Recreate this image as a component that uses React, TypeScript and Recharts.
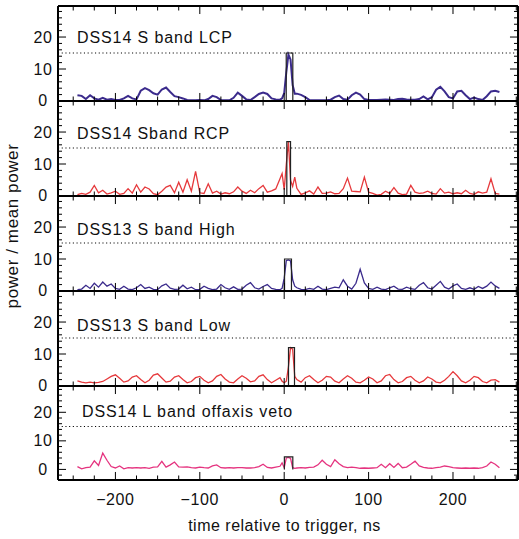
import React from 'react';
import { LineChart, Line, XAxis, YAxis, ReferenceLine } from 'recharts';

// time grid, ns (finer around the trigger)
const times = [
  -245, -240, -235, -230, -225, -220, -215, -210, -205, -200,
  -195, -190, -185, -180, -175, -170, -165, -160, -155, -150,
  -145, -140, -135, -130, -125, -120, -115, -110, -105, -100,
  -95, -90, -85, -80, -75, -70, -65, -60, -55, -50,
  -45, -40, -35, -30, -25, -20, -15, -10, -5,
  -2.5, 0, 2.5, 5, 7.5, 10, 12.5,
  15, 20, 25, 30, 35, 40, 45, 50, 55, 60,
  65, 70, 75, 80, 85, 90, 95, 100, 105, 110,
  115, 120, 125, 130, 135, 140, 145, 150, 155, 160,
  165, 170, 175, 180, 185, 190, 195, 200, 205, 210,
  215, 220, 225, 230, 235, 240, 245, 250, 255,
];

const dss14Lcp = [
  1.8, 1.6, 0.6, 1.8, 0.8, 0.4, 1.0, 0.4, 0.6, 0.3,
  0.3, 0.8, 1.6, 0.8, 0.5, 3.2, 4.0, 3.4, 2.4, 2.0,
  3.6, 4.2, 2.8, 1.5, 1.2, 0.8, 0.3, 0.2, 0.2, 0.3,
  0.2, 0.6, 1.6, 1.2, 0.3, 0.2, 0.2, 1.0, 2.6, 1.6,
  0.5, 0.3, 1.2, 2.2, 2.6, 2.2, 0.8, 0.5, 0.4,
  0.8, 2.5, 9, 14.5, 13, 5, 2.3,
  2.3, 1.9, 1.2, 0.3, 0.2, 0.2, 0.2, 0.2, 0.4, 1.2,
  1.7, 0.6, 0.4, 1.8, 2.6, 2.0, 0.6, 0.3, 0.3, 0.3,
  0.4, 0.5, 0.4, 0.3, 0.6, 0.7, 0.5, 0.4, 0.4, 0.6,
  1.4, 0.5, 1.2, 3.5, 4.4, 3.0, 1.2, 0.8, 3.0, 3.2,
  1.8, 0.6, 1.1, 0.6, 0.3, 1.5, 3.0, 3.2, 2.8,
];

const dss14Rcp = [
  0.4, 0.8, 0.5, 1.2, 3.3, 1.0, 1.8, 0.6, 1.0, 1.5,
  0.5, 0.8, 2.3, 0.9, 3.5, 1.2, 2.8, 2.2, 0.7, 0.4,
  1.5, 2.8, 3.3, 1.0, 4.3, 1.2, 5.1, 1.5, 7.7, 1.0,
  0.8, 3.8, 0.9, 1.5, 0.6, 1.0, 0.7, 1.3, 2.8, 1.5,
  0.8, 1.8, 1.0, 2.3, 3.3, 1.2, 1.6, 2.2, 5.4,
  7.0, 2.0, 10, 17, 4.9, 3.0, 5.9,
  2.4, 0.5, 1.0, 1.6, 0.6, 2.8, 0.8, 0.9, 1.3, 0.7,
  0.8, 2.3, 5.6, 1.5, 1.4, 1.3, 5.9, 1.2, 0.8, 0.3,
  0.5, 1.5, 0.8, 2.6, 0.9, 0.4, 0.6, 3.3, 1.2, 0.8,
  1.0, 1.5, 0.8, 0.6, 2.3, 0.9, 1.2, 0.7, 1.0, 0.7,
  1.8, 0.8, 0.5, 1.3, 0.9, 1.2, 5.4, 0.8, 0.6,
];

const dss13High = [
  0.4, 0.6, 1.8, 0.8, 2.4, 1.2, 2.8, 1.5, 2.2, 0.8,
  0.5, 1.5, 0.6, 0.4, 1.0, 2.0, 0.8, 1.2, 0.5, 0.4,
  1.6, 2.2, 0.9, 0.5, 0.6, 1.8, 0.7, 1.2, 0.4, 0.5,
  1.5, 0.8, 0.4, 0.6, 2.0, 1.0, 0.5, 1.3, 0.5, 0.6,
  1.8, 2.6, 1.0, 0.6, 1.4, 2.0, 0.8, 0.5, 0.4,
  0.8, 4, 9.5, 9.7, 9.4, 3.5, 1.5,
  1.0, 0.5, 0.4, 0.8, 0.5, 1.5, 0.6, 0.4, 0.8, 1.2,
  1.0, 3.5, 1.5, 0.6, 2.4, 6.8, 2.5, 0.8, 0.5, 1.2,
  0.6, 0.4, 1.0, 1.5, 0.6, 0.5, 1.2, 0.7, 0.5, 1.8,
  2.6, 1.0, 0.6, 1.8, 3.0, 1.2, 0.6, 1.6, 2.2, 0.8,
  0.5, 1.0, 0.5, 1.4, 0.8, 1.5, 2.8, 1.6, 0.8,
];

const dss13Low = [
  1.6, 1.2, 1.0, 1.2, 1.0, 1.1, 1.4, 2.2, 3.0, 3.5,
  2.4, 1.2, 1.6, 2.8, 3.2, 2.0, 1.0, 1.8, 3.4, 3.8,
  2.5, 1.2, 1.5, 2.8, 3.2, 2.0, 1.0, 1.4, 2.6, 3.0,
  1.8, 1.0, 1.6, 3.0, 3.6, 2.2, 1.2, 1.0, 2.2, 3.2,
  2.4, 1.3, 1.6, 3.0, 3.5, 2.0, 1.0, 1.8, 2.6,
  1.5, 1.0, 1.5, 6, 12, 11.5, 3,
  2.0, 1.2, 2.6, 3.2, 2.0, 1.0, 1.8, 3.0, 2.8, 1.5,
  1.0, 2.2, 3.2, 2.4, 1.2, 1.0, 1.8, 2.8, 2.2, 1.0,
  1.6, 3.2, 3.6, 2.0, 1.0, 1.4, 2.6, 3.0, 1.8, 1.0,
  1.6, 2.8, 2.2, 1.2, 1.0, 1.8, 3.0, 4.5, 3.2, 1.6,
  1.0, 1.8, 3.0, 2.6, 1.4, 1.0, 1.8, 2.0, 1.2,
];

const dss14LVeto = [
  1.0, 0.2, 0.6, 0.8, 3.0, 1.4, 5.7, 3.2, 1.0, 0.5,
  1.2, 0.2, 0.6, 0.5, 0.6, 0.5, 0.6, 0.4, 0.8, 0.9,
  2.8, 0.8, 1.6, 2.6, 0.9, 0.8, 0.9, 0.6, 0.5, 0.8,
  0.6, 0.5, 1.2, 1.6, 0.6, 0.5, 0.6, 0.5, 0.6, 0.6,
  0.5, 0.5, 0.6, 1.0, 1.8, 0.7, 0.5, 0.8, 1.1,
  2.3, 0.6, 4.0, 4.2, 3.9, 0.6, 0.4,
  0.5, 0.6, 0.5, 0.7, 0.8, 1.6, 3.2, 1.8, 1.0, 3.4,
  2.0, 1.0, 0.6, 0.8, 0.6, 0.4, 0.5, 0.4, 0.5, 0.6,
  1.8, 0.6, 2.0, 0.7, 2.1, 0.6, 0.8, 1.8, 2.9, 1.2,
  0.7, 0.5, 0.4, 0.6, 0.8, 1.2, 1.0, 0.6, 0.5, 0.4,
  0.5, 0.4, 0.5, 0.4, 0.6, 1.2, 2.6, 1.8, 0.6,
];

const panelNames = [
  'DSS14 S band LCP',
  'DSS14 Sband RCP',
  'DSS13 S band High',
  'DSS13 S band Low',
  'DSS14 L band offaxis veto',
];
const panelValues = [dss14Lcp, dss14Rcp, dss13High, dss13Low, dss14LVeto];
const panelColors = ['#3b2b8c', '#e6393c', '#3b2b8c', '#e6393c', '#e5337f'];

// trigger window per panel: start, end (ns), height
const triggerStart = [2.4, 3.1, 0.4, 5.1, 0.2];
const triggerEnd = [10.2, 7.5, 8.6, 12.2, 10.2];
const triggerHeight = [15, 17, 10, 12, 4.4];

const threshold = 15;

const xTicksMajor = [-200, -100, 0, 100, 200];
const xTicksMinor = [-250, -225, -175, -150, -125, -75, -50, -25, 25, 50, 75, 125, 150, 175, 225, 250, 275];
const yTicksMajor = [0, 10, 20];
const yTicksMinor = [2, 4, 6, 8, 12, 14, 16, 18, 22, 24, 26, 28];
const yTicksMinorVeto = [-2, 2, 4, 6, 8, 12, 14, 16, 18, 22, 24, 26, 28];

const FONT = '"Liberation Sans", Arial, Helvetica, sans-serif';
const xDomain: [number, number] = [-268, 277];

const panelTops = [6, 101, 196, 291, 386];
const panelHeights = [95, 95, 95, 95, 94];
const yDomains: [number, number][] = [[0, 29.7], [0, 29.7], [0, 29.7], [0, 29.7], [-3.7, 29.2]];
const labelPos = [[77, 43], [77, 138.5], [77, 235], [77, 330.5], [82, 417]];

const fmt = (v: number) => (v < 0 ? '\u2212' + Math.abs(v) : String(v));
const TINY = 0.01;
const PAD = 14;

// inward tick marks drawn from the axis line; optional labels
const tickMaker = (side: 'left' | 'right' | 'top' | 'bottom', len: number, label?: (p: any) => React.ReactNode) =>
  (p: any) => {
    const { x, y } = p;
    let line;
    if (side === 'left') line = <line x1={x} x2={x + len} y1={y} y2={y} stroke="#000" strokeWidth={1} />;
    else if (side === 'right') line = <line x1={x} x2={x - len} y1={y} y2={y} stroke="#000" strokeWidth={1} />;
    else if (side === 'top') line = <line x1={x} x2={x} y1={y} y2={y + len} stroke="#000" strokeWidth={1} />;
    else line = <line x1={x} x2={x} y1={y} y2={y - len} stroke="#000" strokeWidth={1} />;
    return (
      <g>
        {line}
        {label ? label(p) : null}
      </g>
    );
  };

const yLabel = (p: any) => (
  <text x={43} y={p.y + 5.5} textAnchor="middle" fontSize={16} fontFamily={FONT} fill="#111" letterSpacing={0.6}>
    {p.payload.value}
  </text>
);

const xLabel = (p: any) => (
  <text x={p.x} y={p.y + 25} textAnchor="middle" fontSize={16} fontFamily={FONT} fill="#111" letterSpacing={0.6}>
    {fmt(p.payload.value)}
  </text>
);

function Panel({ i }: { i: number }) {
  const last = i === panelNames.length - 1;
  const bottom = last ? 40 : PAD;
  const data = times.map((t, k) => ({ t, v: panelValues[i][k] }));
  const box = [
    { t: triggerStart[i], v: 0 },
    { t: triggerStart[i], v: triggerHeight[i] },
    { t: triggerEnd[i], v: triggerHeight[i] },
    { t: triggerEnd[i], v: 0 },
  ];
  const frame = { stroke: '#000', strokeWidth: 2 };
  const minorY = i === 4 ? yTicksMinorVeto : yTicksMinor;
  const common = { allowDataOverflow: true, interval: 0 as const, tickSize: 0, tickMargin: 0, tickLine: false, stroke: '#000' };
  const hidden = { dataKey: 'v', data, stroke: 'none', dot: false, activeDot: false, isAnimationActive: false };
  return (
    <div style={{ position: 'absolute', left: 0, top: panelTops[i] - PAD }}>
      <LineChart
        width={519}
        height={panelHeights[i] + PAD + bottom}
        margin={{ top: PAD, right: 1, bottom, left: 58 }}
      >
        <XAxis xAxisId="xb" type="number" dataKey="t" domain={xDomain} ticks={xTicksMajor} height={TINY}
          {...common} axisLine={frame} tick={tickMaker('bottom', 8, last ? xLabel : undefined)} />
        <XAxis xAxisId="xb2" type="number" dataKey="t" domain={xDomain} ticks={xTicksMinor} height={TINY}
          {...common} axisLine={false} tick={tickMaker('bottom', 4.5)} />
        <XAxis xAxisId="xt" orientation="top" type="number" dataKey="t" domain={xDomain} ticks={xTicksMajor} height={TINY}
          {...common} axisLine={frame} tick={tickMaker('top', 8)} />
        <XAxis xAxisId="xt2" orientation="top" type="number" dataKey="t" domain={xDomain} ticks={xTicksMinor} height={TINY}
          {...common} axisLine={false} tick={tickMaker('top', 4.5)} />
        <YAxis yAxisId="yl" type="number" domain={yDomains[i]} ticks={yTicksMajor} width={TINY}
          {...common} axisLine={frame} tick={tickMaker('left', 8, yLabel)} />
        <YAxis yAxisId="yl2" type="number" domain={yDomains[i]} ticks={minorY} width={TINY}
          {...common} axisLine={false} tick={tickMaker('left', 4)} />
        <YAxis yAxisId="yr" orientation="right" type="number" domain={yDomains[i]} ticks={yTicksMajor} width={TINY}
          {...common} axisLine={frame} tick={tickMaker('right', 8)} />
        <YAxis yAxisId="yr2" orientation="right" type="number" domain={yDomains[i]} ticks={minorY} width={TINY}
          {...common} axisLine={false} tick={tickMaker('right', 4)} />
        <Line xAxisId="xb2" yAxisId="yl2" {...hidden} />
        <Line xAxisId="xt" yAxisId="yr" {...hidden} />
        <Line xAxisId="xt2" yAxisId="yr2" {...hidden} />
        <ReferenceLine xAxisId="xb" yAxisId="yl" y={threshold} stroke="#000" strokeWidth={1.1} strokeDasharray="1.1 2.6" />
        <Line xAxisId="xb" yAxisId="yl" data={data} dataKey="v" type="linear" stroke={panelColors[i]}
          strokeWidth={i === 0 ? 2 : 1.3} dot={false} isAnimationActive={false} />
        <Line xAxisId="xb" yAxisId="yl" data={box} dataKey="v" type="linear" stroke="#222"
          strokeWidth={1.2} dot={false} isAnimationActive={false} />
      </LineChart>
    </div>
  );
}

export default function App() {
  return (
    <div style={{ position: 'absolute', left: 0, top: 0, width: 519, height: 539, background: '#fff' }}>
      {panelNames.map((_, i) => (
        <Panel key={i} i={i} />
      ))}
      <svg width={519} height={539} style={{ position: 'absolute', left: 0, top: 0, pointerEvents: 'none' }}>
        {panelNames.map((name, i) => (
          <text key={name} x={labelPos[i][0]} y={labelPos[i][1]} fontSize={16} fontFamily={FONT} fill="#111" letterSpacing={0.9}>
            {name}
          </text>
        ))}
        <text x={284.5} y={530.5} textAnchor="middle" fontSize={16} fontFamily={FONT} fill="#111" letterSpacing={0.5}>
          time relative to trigger, ns
        </text>
        <text transform="translate(17.5,226) rotate(-90)" textAnchor="middle" fontSize={17} fontFamily={FONT} fill="#111" letterSpacing={0.6}>
          power / mean power
        </text>
      </svg>
    </div>
  );
}
